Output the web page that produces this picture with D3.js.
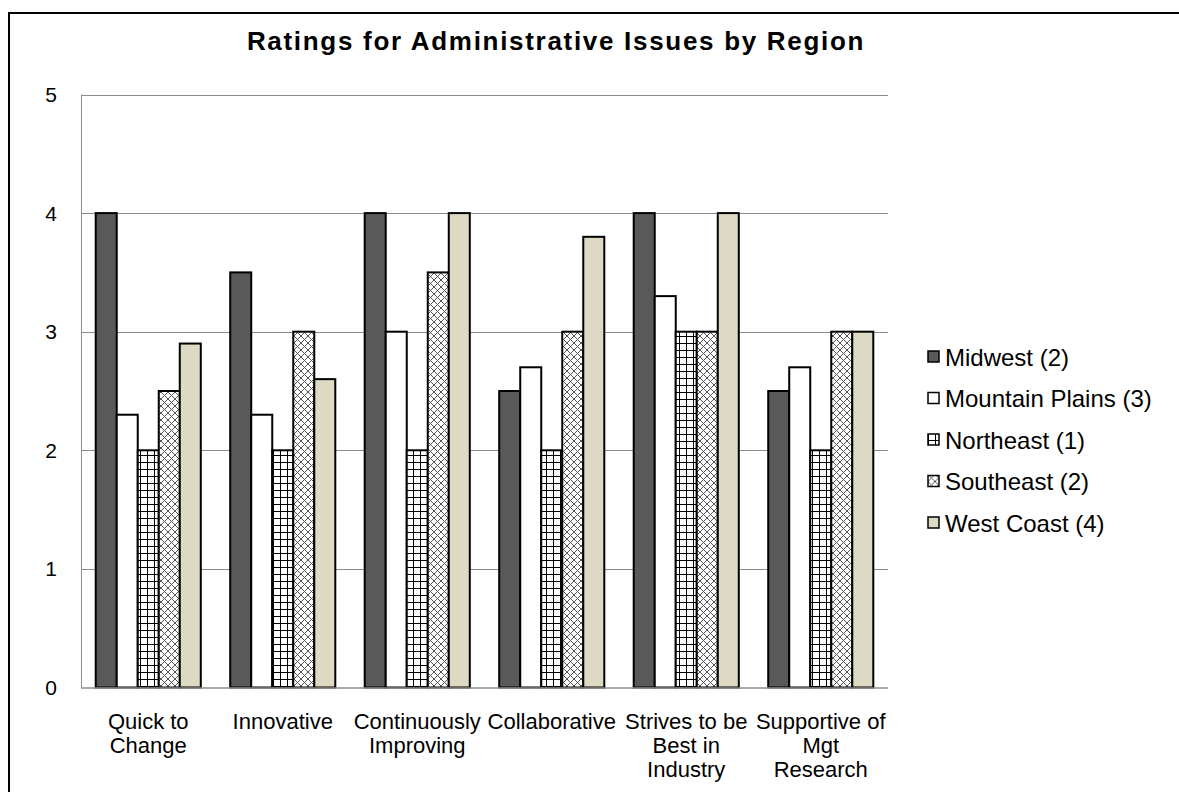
<!DOCTYPE html>
<html>
<head>
<meta charset="utf-8">
<script src="https://cdn.jsdelivr.net/npm/d3@7"></script>
<style>
  html, body { margin: 0; padding: 0; background: #fff; }
  svg { display: block; font-family: "Liberation Sans", Arial, sans-serif; }
</style>
</head>
<body>
<svg id="chart" width="1179" height="792"></svg>
<script>
const title = "Ratings for Administrative Issues by Region";
const categories = ["Quick to Change", "Innovative", "Continuously Improving", "Collaborative", "Strives to be Best in Industry", "Supportive of Mgt Research"];
const categoryLines = [["Quick to", "Change"], ["Innovative"], ["Continuously", "Improving"], ["Collaborative"], ["Strives to be", "Best in", "Industry"], ["Supportive of", "Mgt", "Research"]];
const seriesNames = ["Midwest (2)", "Mountain Plains (3)", "Northeast (1)", "Southeast (2)", "West Coast (4)"];
const midwest        = [4.0, 3.5, 4.0, 2.5, 4.0, 2.5];
const mountainPlains = [2.3, 2.3, 3.0, 2.7, 3.3, 2.7];
const northeast      = [2.0, 2.0, 2.0, 2.0, 3.0, 2.0];
const southeast      = [2.5, 3.0, 3.5, 3.0, 3.0, 3.0];
const westCoast      = [2.9, 2.6, 4.0, 3.8, 4.0, 3.0];
const yTicks = [0, 1, 2, 3, 4, 5];

const seriesValues = [midwest, mountainPlains, northeast, southeast, westCoast];
const seriesFills = ["#595959", "#ffffff", "url(#gridPat)", "url(#crossPat)", "#ddd9c3"];

const svg = d3.select("#chart");
const defs = svg.append("defs");

// small grid pattern
const gp = defs.append("pattern").attr("id", "gridPat").attr("patternUnits", "userSpaceOnUse")
  .attr("width", 7).attr("height", 7);
gp.append("rect").attr("width", 7).attr("height", 7).attr("fill", "#fff");
gp.append("path").attr("d", "M0 0.5H7M0.5 0V7").attr("stroke", "#000").attr("stroke-width", 1);

// diagonal crosshatch pattern
const cp = defs.append("pattern").attr("id", "crossPat").attr("patternUnits", "userSpaceOnUse")
  .attr("width", 7).attr("height", 7);
cp.append("rect").attr("width", 7).attr("height", 7).attr("fill", "#fff");
cp.append("path").attr("d", "M0 0L7 7M7 0L0 7M-1 6L1 8M6 -1L8 1M-1 1L1 -1M6 8L8 6")
  .attr("stroke", "#555").attr("stroke-width", 1);

// chart border
svg.append("rect").attr("x", 9).attr("y", 13).attr("width", 1200).attr("height", 800)
  .attr("fill", "none").attr("stroke", "#000").attr("stroke-width", 2);

// title
svg.append("text").attr("x", 556).attr("y", 50).attr("text-anchor", "middle")
  .attr("font-size", 26).attr("font-weight", "bold").attr("letter-spacing", 1.7)
  .text(title);

const plot = { left: 81, right: 888, top: 94.5, bottom: 687.5 };

const x0 = d3.scaleBand().domain(categories).range([plot.left, plot.right]).paddingInner(0).paddingOuter(0);
const x1 = d3.scaleBand().domain(seriesNames).range([0, x0.bandwidth()]).paddingInner(0).paddingOuter(0.7);
const y = d3.scaleLinear().domain([0, 5]).range([plot.bottom, plot.top]);

// gridlines
svg.append("g").selectAll("line").data(yTicks.filter(d => d > 0)).join("line")
  .attr("x1", plot.left).attr("x2", plot.right)
  .attr("y1", d => Math.round(y(d)) + 0.5).attr("y2", d => Math.round(y(d)) + 0.5)
  .attr("stroke", "#8c8c8c").attr("stroke-width", 1);

// y axis line
svg.append("line").attr("x1", plot.left + 0.5).attr("x2", plot.left + 0.5)
  .attr("y1", plot.top).attr("y2", plot.bottom)
  .attr("stroke", "#8c8c8c").attr("stroke-width", 1);

// y tick labels
svg.append("g").selectAll("text").data(yTicks).join("text")
  .attr("x", 57).attr("y", d => y(d)).attr("dy", "0.36em")
  .attr("text-anchor", "end").attr("font-size", 21).attr("fill", "#000")
  .text(d => d);

// bars
const groups = svg.append("g").selectAll("g").data(seriesNames).join("g");
groups.each(function(name, si) {
  d3.select(this).selectAll("rect").data(categories).join("rect")
    .attr("x", (c) => x0(c) + x1(name))
    .attr("y", (c, ci) => y(seriesValues[si][ci]))
    .attr("width", x1.bandwidth())
    .attr("height", (c, ci) => y(0) - y(seriesValues[si][ci]))
    .attr("fill", seriesFills[si])
    .attr("stroke", "#000").attr("stroke-width", 2);
});

// x axis line
svg.append("line").attr("x1", plot.left).attr("x2", plot.right)
  .attr("y1", plot.bottom + 0.5).attr("y2", plot.bottom + 0.5)
  .attr("stroke", "#8c8c8c").attr("stroke-width", 1.5);

// category labels
const cl = svg.append("g").selectAll("text").data(categories).join("text")
  .attr("text-anchor", "middle").attr("font-size", 22).attr("fill", "#000")
  .attr("x", c => x0(c) + x0.bandwidth() / 2);
cl.each(function(c, i) {
  d3.select(this).selectAll("tspan").data(categoryLines[i]).join("tspan")
    .attr("x", x0(c) + x0.bandwidth() / 2)
    .attr("y", (d, j) => 729 + j * 24)
    .text(d => d);
});

// legend
const legend = svg.append("g").selectAll("g").data(seriesNames).join("g")
  .attr("transform", (d, i) => `translate(928, ${357 + i * 41.5})`);
legend.append("rect").attr("x", 0).attr("y", -6).attr("width", 11).attr("height", 11)
  .attr("fill", (d, i) => seriesFills[i]).attr("stroke", "#000").attr("stroke-width", 1.5);
legend.append("text").attr("x", 17).attr("y", 0).attr("dy", "0.36em")
  .attr("font-size", 24).attr("fill", "#000").text(d => d);
</script>
</body>
</html>
